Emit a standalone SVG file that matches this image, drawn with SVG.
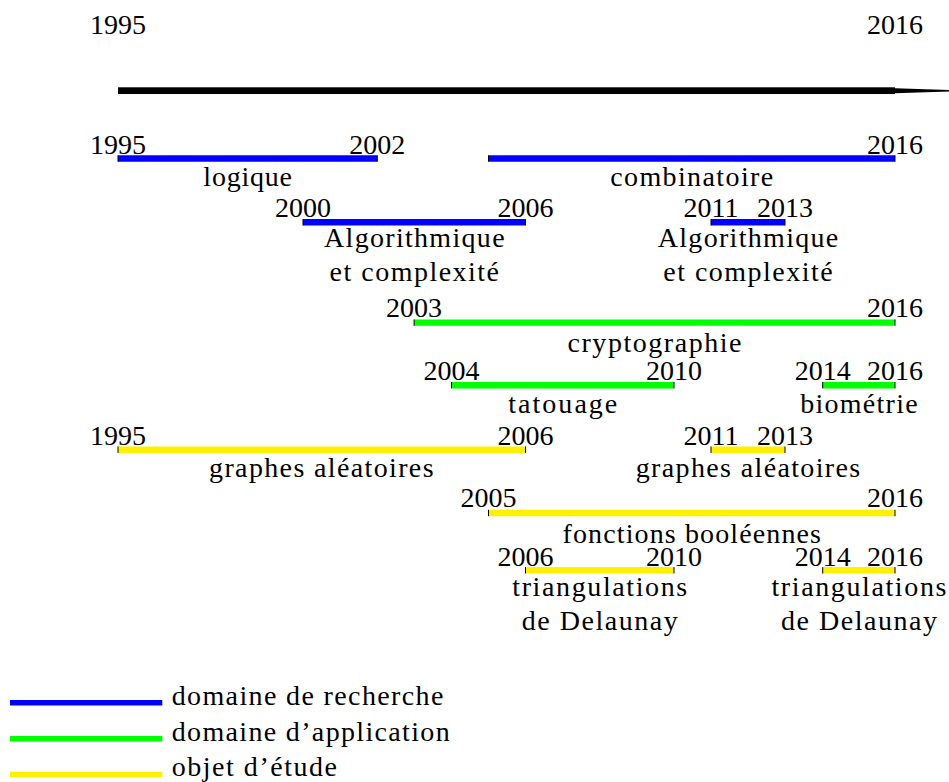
<svg xmlns="http://www.w3.org/2000/svg" width="949" height="782" viewBox="0 0 949 782">
<style>
.tx { font-family: "Liberation Serif", "DejaVu Serif", serif; font-size: 28px; fill: #000; }
.m { text-anchor: middle; }
.bar { stroke-width: 6.4; stroke-linecap: butt; fill: none; }
.lbar { stroke-width: 5.4; stroke-linecap: butt; fill: none; }
.b { stroke: #0000ff; }
.g { stroke: #00ff00; }
.y { stroke: #fff000; }
.tk { stroke: #000; stroke-width: 1; }
</style>
<rect x="0" y="0" width="949" height="782" fill="#fff"/>
<g class="tx" font-family="Liberation Serif, DejaVu Serif, serif" font-size="28">

<g id="top-years">
  <text class="m" x="118" y="34">1995</text>
  <text class="m" x="895" y="34">2016</text>
</g>

<g id="connectors">
  <rect x="118" y="87.3" width="777" height="6.7" fill="#000"/>
  <polygon points="895,88.3 976,90.7 895,93.3" fill="#000"/>
</g>

<g id="logique">
  <line class="bar b" x1="118" y1="158.5" x2="377.3" y2="158.5"/>
  <line class="tk" x1="118" y1="155.3" x2="118" y2="161.7"/>
  <line class="tk" x1="377.3" y1="155.3" x2="377.3" y2="161.7"/>
  <text class="m" x="118" y="154">1995</text>
  <text class="m" x="377.3" y="154">2002</text>
  <text class="m" x="247.7" y="186" textLength="88.7">logique</text>
</g>

<g id="combinatoire">
  <line class="bar b" x1="488.5" y1="158.5" x2="895" y2="158.5"/>
  <line class="tk" x1="488.5" y1="155.3" x2="488.5" y2="161.7"/>
  <line class="tk" x1="895" y1="155.3" x2="895" y2="161.7"/>
  <text class="m" x="895" y="154">2016</text>
  <text class="m" x="691.7" y="186" textLength="163">combinatoire</text>
</g>

<g id="algo1">
  <line class="bar b" x1="303" y1="222.3" x2="525.5" y2="222.3"/>
  <line class="tk" x1="303" y1="219.1" x2="303" y2="225.5"/>
  <line class="tk" x1="525.5" y1="219.1" x2="525.5" y2="225.5"/>
  <text class="m" x="303" y="217">2000</text>
  <text class="m" x="525.5" y="217">2006</text>
  <text class="m" x="414.3" y="246.5" textLength="180.6">Algorithmique</text>
  <text class="m" x="414.3" y="280.5" textLength="169.5">et complexité</text>
</g>

<g id="algo2">
  <line class="bar b" x1="711" y1="222.3" x2="785" y2="222.3"/>
  <line class="tk" x1="711" y1="219.1" x2="711" y2="225.5"/>
  <line class="tk" x1="785" y1="219.1" x2="785" y2="225.5"/>
  <text class="m" x="711" y="217">2011</text>
  <text class="m" x="785" y="217">2013</text>
  <text class="m" x="748" y="246.5" textLength="180.6">Algorithmique</text>
  <text class="m" x="748" y="280.5" textLength="169.5">et complexité</text>
</g>

<g id="cryptographie">
  <line class="bar g" x1="414.1" y1="322.6" x2="895" y2="322.6"/>
  <line class="tk" x1="414.1" y1="319.4" x2="414.1" y2="325.8"/>
  <line class="tk" x1="895" y1="319.4" x2="895" y2="325.8"/>
  <text class="m" x="414.1" y="316.7">2003</text>
  <text class="m" x="895" y="316.7">2016</text>
  <text class="m" x="654.5" y="351.7" textLength="174">cryptographie</text>
</g>

<g id="tatouage">
  <line class="bar g" x1="451.5" y1="385.2" x2="674" y2="385.2"/>
  <line class="tk" x1="451.5" y1="382" x2="451.5" y2="388.4"/>
  <line class="tk" x1="674" y1="382" x2="674" y2="388.4"/>
  <text class="m" x="451.5" y="380">2004</text>
  <text class="m" x="674" y="380">2010</text>
  <text class="m" x="562.8" y="413.3" textLength="109">tatouage</text>
</g>

<g id="biometrie">
  <line class="bar g" x1="822.7" y1="385.2" x2="895" y2="385.2"/>
  <line class="tk" x1="822.7" y1="382" x2="822.7" y2="388.4"/>
  <line class="tk" x1="895" y1="382" x2="895" y2="388.4"/>
  <text class="m" x="822.7" y="380">2014</text>
  <text class="m" x="895" y="380">2016</text>
  <text class="m" x="858.9" y="413.3" textLength="117.5">biométrie</text>
</g>

<g id="graphes1">
  <line class="bar y" x1="118" y1="449.7" x2="525.5" y2="449.7"/>
  <line class="tk" x1="118" y1="446.5" x2="118" y2="452.9"/>
  <line class="tk" x1="525.5" y1="446.5" x2="525.5" y2="452.9"/>
  <text class="m" x="118" y="445">1995</text>
  <text class="m" x="525.5" y="445">2006</text>
  <text class="m" x="321.3" y="477.3" textLength="224.5">graphes aléatoires</text>
</g>

<g id="graphes2">
  <line class="bar y" x1="711" y1="449.7" x2="785" y2="449.7"/>
  <line class="tk" x1="711" y1="446.5" x2="711" y2="452.9"/>
  <line class="tk" x1="785" y1="446.5" x2="785" y2="452.9"/>
  <text class="m" x="711" y="445">2011</text>
  <text class="m" x="785" y="445">2013</text>
  <text class="m" x="748" y="477.3" textLength="224.5">graphes aléatoires</text>
</g>

<g id="fonctions">
  <line class="bar y" x1="488.5" y1="513" x2="895" y2="513"/>
  <line class="tk" x1="488.5" y1="509.8" x2="488.5" y2="516.2"/>
  <line class="tk" x1="895" y1="509.8" x2="895" y2="516.2"/>
  <text class="m" x="488.5" y="507.3">2005</text>
  <text class="m" x="895" y="507.3">2016</text>
  <text class="m" x="691.75" y="542.5" textLength="258.5">fonctions booléennes</text>
</g>

<g id="delaunay1">
  <line class="bar y" x1="525.5" y1="570.3" x2="674" y2="570.3"/>
  <line class="tk" x1="525.5" y1="567.1" x2="525.5" y2="573.5"/>
  <line class="tk" x1="674" y1="567.1" x2="674" y2="573.5"/>
  <text class="m" x="525.5" y="566">2006</text>
  <text class="m" x="674" y="566">2010</text>
  <text class="m" x="599.75" y="596" textLength="175">triangulations</text>
  <text class="m" x="599.75" y="630" textLength="156">de Delaunay</text>
</g>

<g id="delaunay2">
  <line class="bar y" x1="822.7" y1="570.3" x2="895" y2="570.3"/>
  <line class="tk" x1="822.7" y1="567.1" x2="822.7" y2="573.5"/>
  <line class="tk" x1="895" y1="567.1" x2="895" y2="573.5"/>
  <text class="m" x="822.7" y="566">2014</text>
  <text class="m" x="895" y="566">2016</text>
  <text class="m" x="858.9" y="596" textLength="175">triangulations</text>
  <text class="m" x="858.9" y="630" textLength="156">de Delaunay</text>
</g>

<g id="legend">
  <line class="lbar b" x1="10" y1="702.7" x2="162.3" y2="702.7"/>
  <text x="171.7" y="705" textLength="271.7">domaine de recherche</text>
  <line class="lbar g" x1="10" y1="738.8" x2="162.3" y2="738.8"/>
  <text x="171.7" y="740.5" textLength="278">domaine d’application</text>
  <line class="lbar y" x1="10" y1="774.5" x2="162.3" y2="774.5"/>
  <text x="171.7" y="776" textLength="165.3">objet d’étude</text>
</g>
</g>
</svg>
